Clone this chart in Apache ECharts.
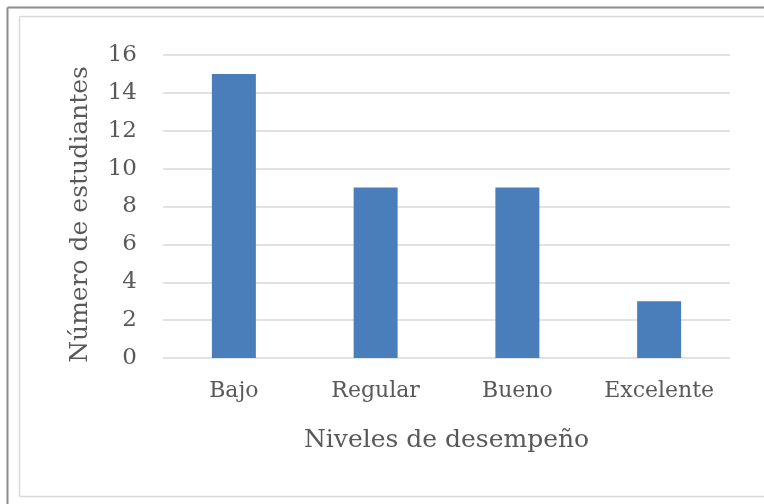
<!DOCTYPE html>
<html>
<head>
<meta charset="utf-8">
<script src="https://cdn.jsdelivr.net/npm/echarts@6/dist/echarts.min.js"></script>
<style>
  html, body { margin: 0; padding: 0; background: #fff; overflow: hidden; }
  #chart { width: 764px; height: 504px; }
</style>
</head>
<body>
<div id="chart"></div>
<script>
const categories = ['Bajo', 'Regular', 'Bueno', 'Excelente']
const students = [15, 9, 9, 3]
const yTicks = [0, 2, 4, 6, 8, 10, 12, 14, 16]

const font = 'DejaVu Serif'
const textColor = '#595959'

const chart = echarts.init(document.getElementById('chart'))

const frame = { stroke: '#8c8c8c', lineWidth: 2 }
const border = { stroke: '#d9d9d9', lineWidth: 1.5 }

chart.setOption({
  animation: false,
  backgroundColor: '#fff',
  graphic: [
    // outer dark frame (only top and left are inside the picture)
    { type: 'line', shape: { x1: 7.5, y1: 7.5, x2: 764, y2: 7.5 }, style: frame },
    { type: 'line', shape: { x1: 7.5, y1: 7.5, x2: 7.5, y2: 504 }, style: frame },
    // inner light chart border
    { type: 'line', shape: { x1: 19.5, y1: 16.5, x2: 764, y2: 16.5 }, style: border },
    { type: 'line', shape: { x1: 19.5, y1: 16.5, x2: 19.5, y2: 496.5 }, style: border },
    { type: 'line', shape: { x1: 19.5, y1: 496.5, x2: 764, y2: 496.5 }, style: border },
  ],
  grid: { left: 163, right: 34, top: 55, bottom: 146 },
  xAxis: {
    type: 'category',
    data: categories,
    name: 'Niveles de desempeño',
    nameLocation: 'middle',
    nameGap: 70,
    nameTextStyle: { fontFamily: font, fontSize: 25, color: textColor },
    axisLine: { show: false },
    axisTick: { show: false },
    axisLabel: { interval: 0, hideOverlap: false, fontFamily: font, fontSize: 22, color: textColor, margin: 22 },
  },
  yAxis: {
    type: 'value',
    min: yTicks[0],
    max: yTicks[yTicks.length - 1],
    interval: 2,
    name: 'Número de estudiantes',
    nameLocation: 'middle',
    nameGap: 70,
    nameTextStyle: { fontFamily: font, fontSize: 25, color: textColor, padding: [0, 16, 0, 0] },
    axisLine: { show: false },
    axisTick: { show: false },
    axisLabel: { fontFamily: font, fontSize: 23, color: textColor, margin: 26 },
    splitLine: { lineStyle: { color: '#d9d9d9', width: 1.5 } },
  },
  series: [
    {
      type: 'bar',
      data: students,
      barWidth: 44,
      itemStyle: { color: '#4a7ebb' },
    },
  ],
})
</script>
</body>
</html>
